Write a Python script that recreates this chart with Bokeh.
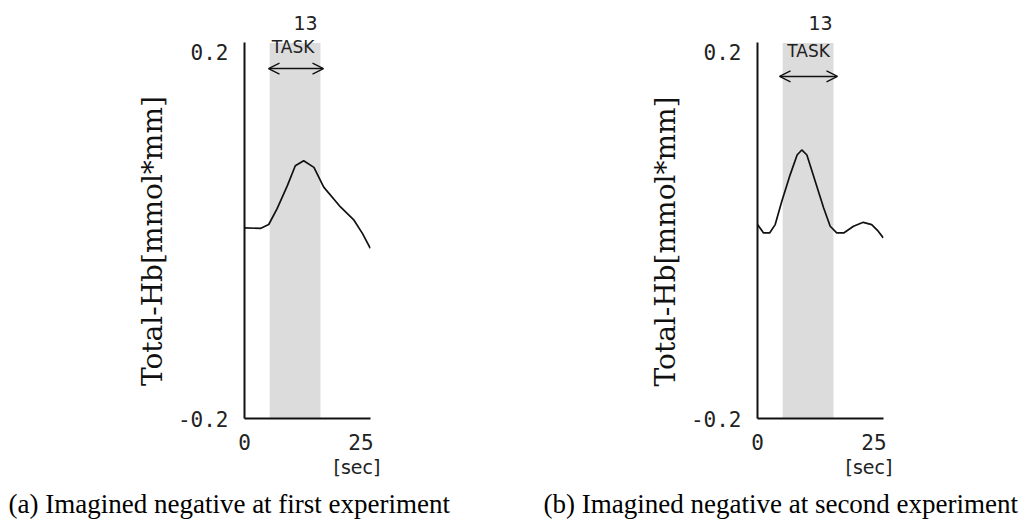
from bokeh.plotting import figure
from bokeh.models import Range1d, Label, Arrow, OpenHead, FixedTicker, LinearAxis, Title
from bokeh.layouts import row
from bokeh.embed import file_html
from bokeh.resources import INLINE

# ---- data ----
time_a = [0, 3.4, 5.2, 7.0, 9.2, 10.9, 12.7, 14.9, 17.0, 20.6, 23.5, 25.3, 27.0]
hb_a = [0.0082, 0.0075, 0.0118, 0.0291, 0.0543, 0.0760, 0.0814, 0.0742, 0.0526,
        0.0310, 0.0165, 0.0021, -0.0142]
time_b = [0, 1.3, 2.6, 3.8, 5.2, 7.0, 8.5, 9.5, 10.6, 12.4, 14.2, 15.6, 17.0,
          18.5, 20.6, 22.7, 24.5, 25.9, 27.0]
hb_b = [0.0117, 0.0026, 0.0026, 0.0117, 0.0370, 0.0660, 0.0877, 0.0932, 0.0877,
        0.0587, 0.0298, 0.0099, 0.0026, 0.0026, 0.0099, 0.0142, 0.0117, 0.0045, -0.0028]
task_start = [5.4]
task_end = [16.3]
task_len_label = "13"
task_label = "TASK"
x_ticks = [0, 25]
y_ticks = [-0.2, 0.2]
y_tick_labels = {-0.2: "-0.2", 0.2: "0.2"}
x_label = "[sec]"
y_label = "Total-Hb[mmol*mm]"
captions = ["(a) Imagined negative at first experiment",
            "(b) Imagined negative at second experiment"]

TICK_FONT = "DejaVu Sans Mono"
FIG_H = 524


def panel(t, hb, caption, fig_w, b_left, b_bottom, y_end, scale_x, scale_y,
          fig_x0, ann):
    frame_w = 126
    x_end = frame_w / scale_x
    frame_h = round((y_end + 0.2) * scale_y)
    b_top = FIG_H - b_bottom - frame_h
    b_right = fig_w - b_left - frame_w
    p = figure(width=fig_w, height=FIG_H, output_backend="svg", toolbar_location=None,
               x_range=Range1d(0, x_end), y_range=Range1d(-0.2, y_end),
               min_border_left=b_left, min_border_right=b_right,
               min_border_top=b_top, min_border_bottom=b_bottom)
    p.outline_line_color = None
    p.grid.visible = False
    p.background_fill_color = "white"

    # canvas px -> data helpers (for annotation placement)
    frame_left_px = fig_x0 + b_left
    frame_bottom_px = FIG_H - b_bottom

    def dx(px):
        return (px - frame_left_px) / scale_x

    def dy(py):
        return -0.2 + (frame_bottom_px - py) / scale_y

    p.quad(left=task_start, right=task_end, bottom=[-0.2], top=[0.21],
           fill_color="#dcdcdc", line_color=None)
    p.line(t, hb, line_color="#111111", line_width=1.7)

    for ax in (p.xaxis[0], p.yaxis[0]):
        ax.axis_line_color = "#111111"
        ax.axis_line_width = 2
        ax.major_tick_line_color = None
        ax.minor_tick_line_color = None
        ax.major_tick_out = 0
        ax.minor_tick_out = 0
        ax.major_label_text_font = TICK_FONT
        ax.major_label_text_font_size = "21px"
        ax.major_label_text_color = "#222222"
    p.xaxis.ticker = FixedTicker(ticks=x_ticks)
    p.yaxis.ticker = FixedTicker(ticks=y_ticks)
    p.yaxis.major_label_overrides = y_tick_labels
    p.yaxis.bounds = (-0.2, 0.21)
    p.yaxis.major_label_standoff = 16
    p.xaxis.major_label_standoff = 15

    # y-axis title as a second left axis (label placed at its position)
    ylab_pos = dy(ann["ylab"])
    ay = LinearAxis(ticker=FixedTicker(ticks=[ylab_pos]),
                    major_label_overrides={ylab_pos: y_label},
                    major_label_orientation="vertical",
                    axis_line_color=None, major_tick_line_color=None,
                    minor_tick_line_color=None, major_tick_out=0, minor_tick_out=0,
                    major_label_standoff=5,
                    major_label_text_font="DejaVu Serif",
                    major_label_text_font_size="28px",
                    major_label_text_color="#111111")
    p.add_layout(ay, "left")

    # x-axis title "[sec]" as a second below axis
    xlab_pos = dx(ann["xlab"])
    axx = LinearAxis(ticker=FixedTicker(ticks=[xlab_pos]),
                     major_label_overrides={xlab_pos: x_label},
                     axis_line_color=None, major_tick_line_color=None,
                     minor_tick_line_color=None, major_tick_out=0, minor_tick_out=0,
                     major_label_standoff=3,
                     major_label_text_font="DejaVu Sans",
                     major_label_text_font_size="19px",
                     major_label_text_color="#222222")
    p.add_layout(axx, "below")

    # caption below
    p.title = Title(text=caption, align="left", offset=ann["cap"] - b_left,
                    text_font="Liberation Serif", text_font_size="27px",
                    text_font_style="normal", text_color="#000000", standoff=12)
    p.title_location = "below"

    # task annotations inside the frame
    p.add_layout(Label(x=dx(ann["n13"][0]), y=dy(ann["n13"][1]), text=task_len_label,
                       text_font="DejaVu Sans", text_font_size="19px",
                       text_align="center", text_baseline="middle", text_color="#222222"))
    p.add_layout(Label(x=dx(ann["task"][0]), y=dy(ann["task"][1]), text=task_label,
                       text_font="DejaVu Sans", text_font_size="17px",
                       text_align="center", text_baseline="middle", text_color="#222222"))
    p.add_layout(Arrow(start=OpenHead(size=11, line_width=1.3, line_color="#111111"),
                       end=OpenHead(size=11, line_width=1.3, line_color="#111111"),
                       x_start=dx(ann["arrow"][0]), x_end=dx(ann["arrow"][1]),
                       y_start=dy(ann["arrow"][2]), y_end=dy(ann["arrow"][2]),
                       line_width=1.5, line_color="#111111"))
    return p


pa = panel(time_a, hb_a, captions[0], fig_w=508, b_left=244, b_bottom=102,
           y_end=0.24, scale_x=4.66, scale_y=924, fig_x0=0,
           ann={"n13": (305, 23.5), "task": (292.5, 47.5), "arrow": (268, 323, 69),
                "ylab": 243, "xlab": 356.5, "cap": 8})
pb = panel(time_b, hb_b, captions[1], fig_w=514, b_left=249, b_bottom=106,
           y_end=0.24, scale_x=4.66, scale_y=921, fig_x0=508,
           ann={"n13": (820, 20), "task": (808, 48), "arrow": (779, 837, 74),
                "ylab": 240, "xlab": 868.5, "cap": 543 - 508})

layout = row(pa, pb)
open("out.html", "w").write(file_html(layout, INLINE))
